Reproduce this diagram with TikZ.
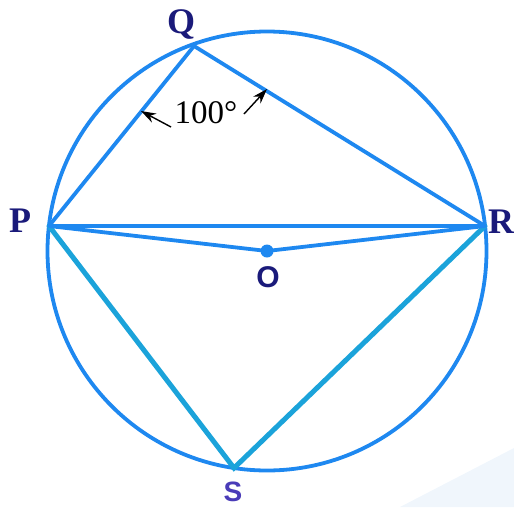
\documentclass[tikz,border=0pt]{standalone}
\usepackage{fontspec}
\setmainfont{Liberation Serif}
\setsansfont{Liberation Sans}
\usetikzlibrary{arrows.meta}
\definecolor{lineblue}{HTML}{1E88F0}
\definecolor{cyanline}{HTML}{1BA3DA}
\definecolor{navy}{HTML}{1A1A7A}
\definecolor{purp}{HTML}{4A3CB8}
\definecolor{bgshade}{HTML}{F0F6FC}
\begin{document}
\begin{tikzpicture}[x=1pt,y=-1pt,
  bl/.style={draw=lineblue,line width=3.8pt},
  cy/.style={draw=cyanline,line width=5pt,line cap=round},
  lab/.style={text=navy,font=\bfseries\fontsize{36}{36}\selectfont,inner sep=0pt},
  labs/.style={text=navy,font=\sffamily\fontsize{30}{30}\selectfont,inner sep=0pt},
  arr/.style={draw=black,line width=1.4pt,-{Stealth[length=15pt,width=10pt]}}]
\useasboundingbox (0,0) rectangle (514,507);
\fill[bgshade] (400,507) -- (514,448) -- (514,507) -- cycle;
\coordinate (P) at (49,226);
\coordinate (Q) at (194,46);
\coordinate (R) at (485,226);
\coordinate (O) at (267,251);
\coordinate (S) at (234,468);
\draw[bl] (O) circle (219.5);
\draw[cy] (P) -- (S) -- (R);
\draw[bl,line join=round] (P) -- (Q) -- (R) -- cycle;
\draw[bl,line join=round] (P) -- (O) -- (R);
\fill[lineblue] (O) circle (6.5);
\node[lab] (lP) at (20,221) {P};
\node[lab] (lQ) at (181,24) {Q};
\node[lab] (lR) at (501,222) {R};
\node[labs,font=\sffamily\bfseries\fontsize{30}{30}\selectfont] (lO) at (268,277) {O};
\node[labs,text=purp,font=\sffamily\bfseries\fontsize{28}{28}\selectfont] (lS) at (233,492) {S};
\node[inner sep=0pt,font=\fontsize{33}{33}\selectfont] (ang) at (206,113) {100°};
\coordinate (a1t) at (171,127);
\coordinate (a1h) at (141,111);
\coordinate (a2t) at (244,114);
\coordinate (a2h) at (267,89);
\draw[arr] (a1t) -- (a1h);
\draw[arr] (a2t) -- (a2h);
\end{tikzpicture}
\end{document}
